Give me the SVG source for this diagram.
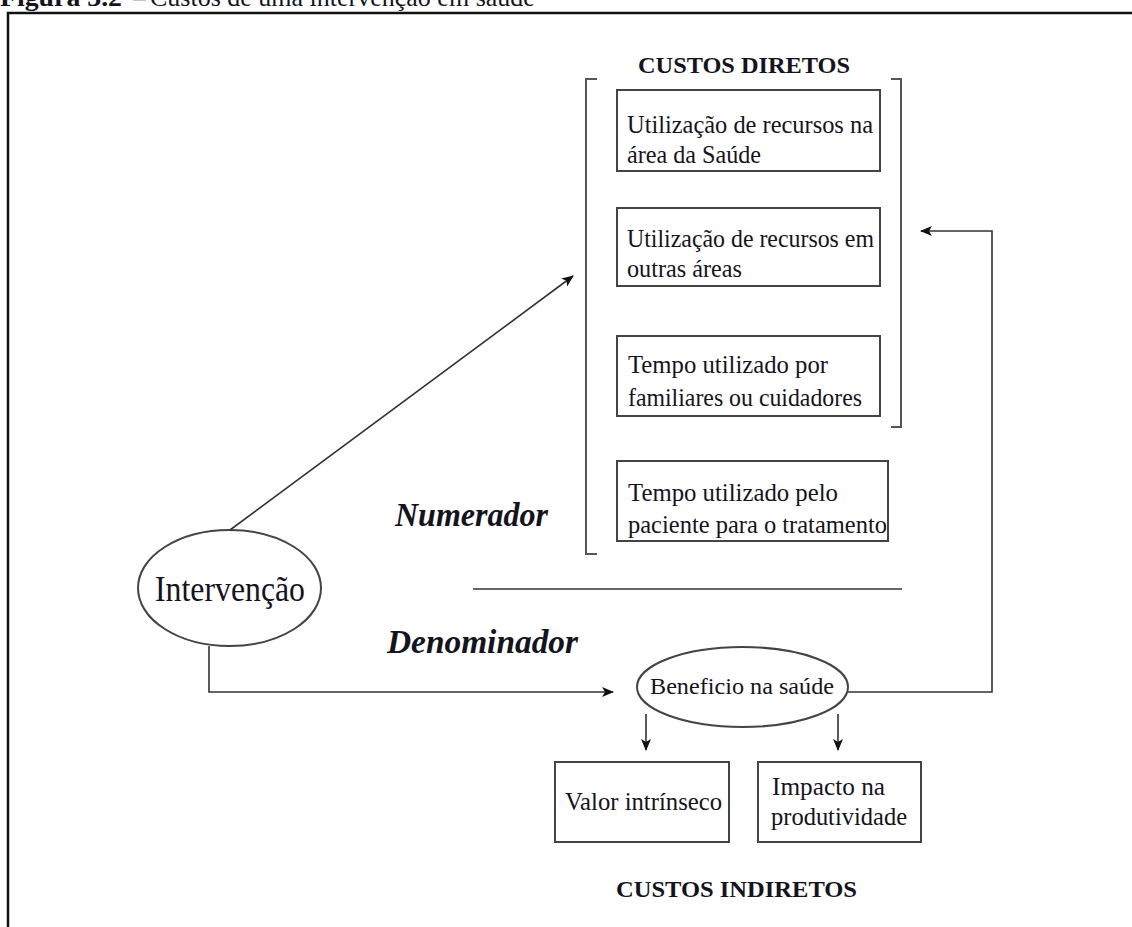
<svg xmlns="http://www.w3.org/2000/svg" width="1132" height="927" viewBox="0 0 1132 927">
  <style>
    .t { font-family: "Liberation Serif", "Times New Roman", serif; fill: #141420; }
    .box { fill: #ffffff; stroke: #444; stroke-width: 2; }
    .ln { fill: none; stroke: #333; stroke-width: 1.6; }
    .br { fill: none; stroke: #555; stroke-width: 2; }
    .bold { font-weight: bold; }
    .bi { font-weight: bold; font-style: italic; }
  </style>
  <defs>
    <marker id="arrow" viewBox="0 0 12 10" refX="11" refY="5" markerWidth="12" markerHeight="10" markerUnits="userSpaceOnUse" orient="auto">
      <path d="M0,0 L12,5 L0,10 L3,5 Z" fill="#111"/>
    </marker>
  </defs>
  <rect width="1132" height="927" fill="#ffffff"/>

  <!-- caption, running off the top edge -->
  <g id="caption">
    <text class="t bold" x="0" y="6" font-size="26" textLength="122" lengthAdjust="spacingAndGlyphs">Figura 3.2</text>
    <text class="t" x="133" y="6" font-size="26">–</text>
    <text class="t" x="150" y="6" font-size="26">Custos de uma intervenção em saúde</text>
  </g>

  <!-- frame -->
  <path d="M8,927 L8,13 L1132,13" fill="none" stroke="#111" stroke-width="2.5"/>

  <!-- direct costs bracket -->
  <g id="custos-diretos">
    <text class="t bold" x="744" y="73" font-size="24" text-anchor="middle" textLength="212" lengthAdjust="spacingAndGlyphs">CUSTOS DIRETOS</text>
    <path class="br" d="M597,79 L586,79 L586,554 L597,554"/>
    <path class="br" d="M891,79 L901,79 L901,427 L891,427"/>
  </g>

  <g id="box-saude">
    <rect class="box" x="617" y="90" width="263" height="81"/>
    <text class="t" x="627" y="133" font-size="25" textLength="246" lengthAdjust="spacingAndGlyphs">Utilização de recursos na</text>
    <text class="t" x="627" y="163" font-size="25" textLength="134" lengthAdjust="spacingAndGlyphs">área da Saúde</text>
  </g>

  <g id="box-outras">
    <rect class="box" x="617" y="208" width="263" height="78"/>
    <text class="t" x="627" y="247" font-size="25" textLength="247" lengthAdjust="spacingAndGlyphs">Utilização de recursos em</text>
    <text class="t" x="627" y="277" font-size="25" textLength="115" lengthAdjust="spacingAndGlyphs">outras áreas</text>
  </g>

  <g id="box-familiares">
    <rect class="box" x="617" y="336" width="263" height="80"/>
    <text class="t" x="628" y="373" font-size="25" textLength="200" lengthAdjust="spacingAndGlyphs">Tempo utilizado por</text>
    <text class="t" x="628" y="406" font-size="25" textLength="234" lengthAdjust="spacingAndGlyphs">familiares ou cuidadores</text>
  </g>

  <g id="box-paciente">
    <rect class="box" x="617" y="461" width="271" height="80"/>
    <text class="t" x="628" y="501" font-size="25" textLength="210" lengthAdjust="spacingAndGlyphs">Tempo utilizado pelo</text>
    <text class="t" x="628" y="533" font-size="25" textLength="259" lengthAdjust="spacingAndGlyphs">paciente para o tratamento</text>
  </g>

  <g id="intervencao">
    <ellipse cx="229.5" cy="588" rx="91.5" ry="58" fill="#fff" stroke="#444" stroke-width="2"/>
    <text class="t" x="230" y="601" font-size="36" text-anchor="middle" textLength="150" lengthAdjust="spacingAndGlyphs">Intervenção</text>
  </g>

  <g id="labels">
    <text class="t bi" x="395" y="526" font-size="33" textLength="153" lengthAdjust="spacingAndGlyphs">Numerador</text>
    <text class="t bi" x="387" y="653" font-size="33" textLength="191" lengthAdjust="spacingAndGlyphs">Denominador</text>
    <line x1="473" y1="589" x2="902" y2="589" stroke="#333" stroke-width="1.6"/>
  </g>

  <g id="beneficio">
    <ellipse cx="742.5" cy="687" rx="105.5" ry="40" fill="#fff" stroke="#444" stroke-width="2"/>
    <text class="t" x="742" y="694" font-size="24" text-anchor="middle" textLength="184" lengthAdjust="spacingAndGlyphs">Beneficio na saúde</text>
  </g>

  <g id="valor">
    <rect class="box" x="555" y="762" width="174" height="80"/>
    <text class="t" x="565" y="810" font-size="25" textLength="157" lengthAdjust="spacingAndGlyphs">Valor intrínseco</text>
  </g>

  <g id="impacto">
    <rect class="box" x="758" y="762" width="163" height="80"/>
    <text class="t" x="772" y="795" font-size="25" textLength="113" lengthAdjust="spacingAndGlyphs">Impacto na</text>
    <text class="t" x="771" y="825" font-size="25" textLength="136" lengthAdjust="spacingAndGlyphs">produtividade</text>
  </g>

  <g id="custos-indiretos">
    <text class="t bold" x="616" y="897" font-size="24" textLength="241" lengthAdjust="spacingAndGlyphs">CUSTOS INDIRETOS</text>
  </g>

  <!-- connectors -->
  <g id="connectors">
    <line class="ln" x1="230" y1="530" x2="573" y2="276" marker-end="url(#arrow)"/>
    <path class="ln" d="M209,646 L209,692 L613,692" marker-end="url(#arrow)"/>
    <path class="ln" d="M848,692 L992,692 L992,231 L921,231" marker-end="url(#arrow)"/>
    <line class="ln" x1="646" y1="714" x2="646" y2="750" marker-end="url(#arrow)"/>
    <line class="ln" x1="838" y1="714" x2="838" y2="750" marker-end="url(#arrow)"/>
  </g>
</svg>
